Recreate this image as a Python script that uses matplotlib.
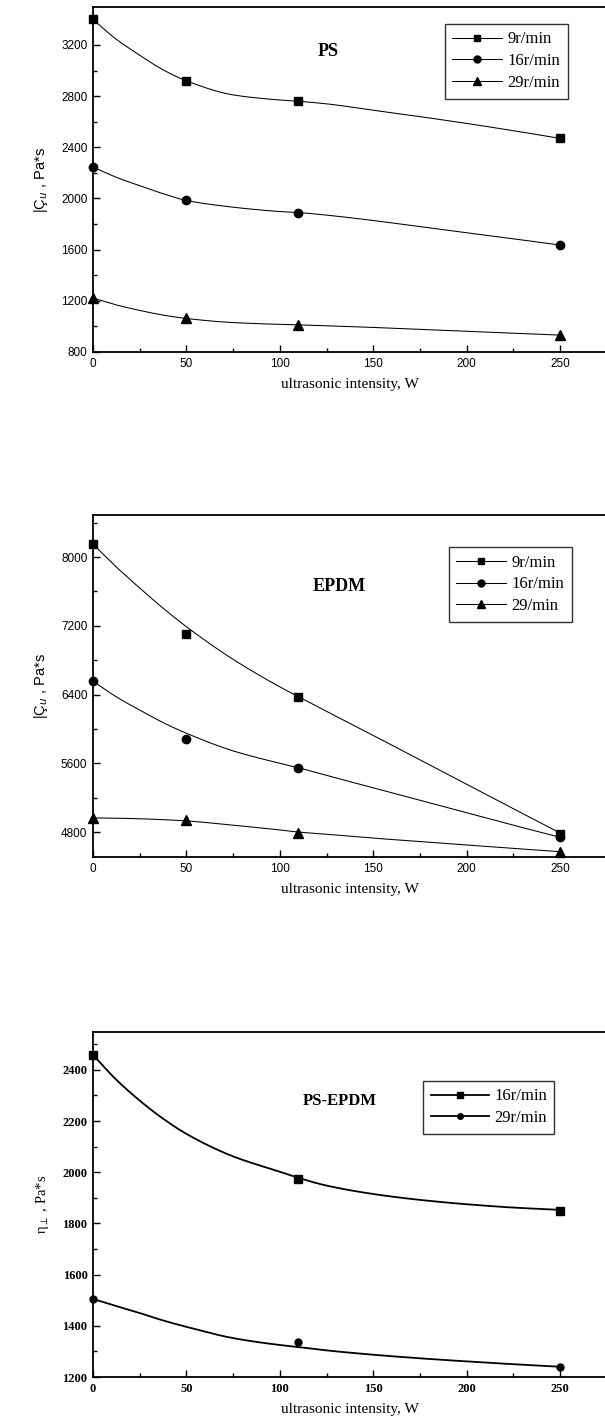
import numpy as np
import matplotlib
matplotlib.use("Agg")
import matplotlib.pyplot as plt
from matplotlib.ticker import MultipleLocator
from matplotlib.lines import Line2D

# --- data ---
# PS panel
PS_X = [0, 50, 110, 250]
PS_9 = [3400, 2920, 2760, 2470]
PS_16 = [2245, 1985, 1890, 1636]
PS_29 = [1222, 1062, 1012, 932]
# the drawn lines
CURVE_X = [0, 12, 25, 37, 50, 75, 100, 110, 125, 150, 175, 200, 225, 250]
PS_9_LINE = [3400, 3250, 3120, 3010, 2920, 2810, 2770, 2760, 2740, 2690, 2640, 2587, 2530, 2470]
PS_16_LINE = [2245, 2168, 2100, 2040, 1985, 1932, 1898, 1890, 1870, 1828, 1780, 1732, 1685, 1636]
PS_29_LINE = [1222, 1170, 1125, 1090, 1062, 1030, 1016, 1012, 1005, 992, 977, 962, 947, 932]

# EPDM panel
EPDM_X = [0, 50, 110, 250]
EPDM_9 = [8150, 7110, 6370, 4780]
EPDM_16 = [6557, 5880, 5548, 4740]
EPDM_29 = [4960, 4935, 4795, 4572]
EPDM_9_LINE = [8150, 7895, 7640, 7415, 7190, 6810, 6490, 6375, 6205, 5925, 5640, 5355, 5072, 4790]
EPDM_16_LINE = [6557, 6380, 6220, 6080, 5950, 5745, 5600, 5548, 5460, 5315, 5170, 5025, 4880, 4740]
EPDM_29_LINE = [4965, 4962, 4955, 4945, 4930, 4880, 4825, 4800, 4775, 4730, 4690, 4650, 4610, 4572]

# PS-EPDM panel
BL_X = [0, 110, 250]
BL_16 = [2459, 1974, 1850]
BL_29 = [1505, 1336, 1240]
BL_16_LINE = [2459, 2365, 2280, 2212, 2150, 2062, 2002, 1978, 1948, 1915, 1892, 1875, 1862, 1853]
BL_29_LINE = [1505, 1478, 1450, 1422, 1396, 1352, 1325, 1317, 1304, 1287, 1273, 1261, 1250, 1240]

W, H = 605, 1427
fig = plt.figure(figsize=(W / 100, H / 100), dpi=100)

SANS = "Liberation Sans"
SERIF = "Liberation Serif"


def smooth(x, y, n=300):
    """monotone cubic through the read points, only to draw a smooth line"""
    x = np.asarray(x, float)
    y = np.asarray(y, float)
    h = np.diff(x)
    d = np.diff(y) / h
    m = np.zeros_like(y)
    m[0], m[-1] = d[0], d[-1]
    for i in range(1, len(x) - 1):
        if d[i - 1] * d[i] > 0:
            w1 = 2 * h[i] + h[i - 1]
            w2 = h[i] + 2 * h[i - 1]
            m[i] = (w1 + w2) / (w1 / d[i - 1] + w2 / d[i])
    xs = np.linspace(x[0], x[-1], n)
    k = np.clip(np.searchsorted(x, xs) - 1, 0, len(x) - 2)
    t = (xs - x[k]) / h[k]
    h00 = 2 * t**3 - 3 * t**2 + 1
    h10 = t**3 - 2 * t**2 + t
    h01 = -2 * t**3 + 3 * t**2
    h11 = t**3 - t**2
    ys = h00 * y[k] + h10 * h[k] * m[k] + h01 * y[k + 1] + h11 * h[k] * m[k + 1]
    return xs, ys


def make_axes(top_px, bottom_px):
    left = 93 / W
    right = (93 + 275 * 1.868) / W
    ax = fig.add_axes([left, 1 - bottom_px / H, right - left, (bottom_px - top_px) / H])
    ax.set_xlim(0, 275)
    ax.xaxis.set_major_locator(MultipleLocator(50))
    ax.xaxis.set_minor_locator(MultipleLocator(25))
    ax.tick_params(which="both", direction="in", top=False, right=False, width=1.0)
    ax.tick_params(which="major", length=5, labelsize=8.5, pad=4)
    ax.tick_params(which="minor", length=3)
    for s in ax.spines.values():
        s.set_linewidth(1.3)
    ax.set_xlabel("ultrasonic intensity, W", fontfamily=SERIF, fontsize=11, labelpad=6)
    return ax


def style_labels(ax, fam, weight="normal"):
    for lab in ax.get_xticklabels() + ax.get_yticklabels():
        lab.set_fontfamily(fam)
        lab.set_fontweight(weight)


def legend(ax, handles, labels, anchor, hl=3.0):
    ax.legend(handles, labels, loc="upper left", bbox_to_anchor=anchor,
              prop={"family": SERIF, "size": 12}, frameon=True, fancybox=False,
              edgecolor="black", handlelength=hl, borderpad=0.45,
              labelspacing=0.35, handletextpad=0.3, borderaxespad=0)


# ---------- PS ----------
ax1 = make_axes(7, 352)
ax1.set_ylim(800, 3497)
ax1.yaxis.set_major_locator(MultipleLocator(400))
ax1.yaxis.set_minor_locator(MultipleLocator(200))
for line in [PS_9_LINE, PS_16_LINE, PS_29_LINE]:
    ax1.plot(*smooth(CURVE_X, line), color="black", lw=0.75)
ax1.plot(PS_X, PS_9, "s", color="black", ms=6, clip_on=False)
ax1.plot(PS_X, PS_16, "o", color="black", ms=6, clip_on=False)
ax1.plot(PS_X, PS_29, "^", color="black", ms=7, clip_on=False)
ax1.text(0.457, 0.87, "PS", transform=ax1.transAxes, fontfamily=SERIF,
         fontweight="bold", fontsize=13, ha="center", va="center")
ax1.set_ylabel("|Ç$_u$ , Pa*s", fontfamily=SANS, fontsize=10.5, labelpad=8)
h1 = [Line2D([], [], color="black", lw=0.75, marker=m, ms=s)
      for m, s in [("s", 5), ("o", 5), ("^", 6)]]
legend(ax1, h1, ["9r/min", "16r/min", "29r/min"], (0.685, 0.951))
style_labels(ax1, SANS)

# ---------- EPDM ----------
ax2 = make_axes(515, 857)
ax2.set_ylim(4510, 8490)
ax2.yaxis.set_major_locator(MultipleLocator(800))
ax2.yaxis.set_minor_locator(MultipleLocator(400))
for line in [EPDM_9_LINE, EPDM_16_LINE, EPDM_29_LINE]:
    ax2.plot(*smooth(CURVE_X, line), color="black", lw=0.75)
ax2.plot(EPDM_X, EPDM_9, "s", color="black", ms=6, clip_on=False)
ax2.plot(EPDM_X, EPDM_16, "o", color="black", ms=6, clip_on=False)
ax2.plot(EPDM_X, EPDM_29, "^", color="black", ms=7, clip_on=False)
ax2.text(0.48, 0.79, "EPDM", transform=ax2.transAxes, fontfamily=SERIF,
         fontweight="bold", fontsize=13, ha="center", va="center")
ax2.set_ylabel("|Ç$_u$ , Pa*s", fontfamily=SANS, fontsize=10.5, labelpad=8)
h2 = [Line2D([], [], color="black", lw=0.75, marker=m, ms=s)
      for m, s in [("s", 5), ("o", 5), ("^", 6)]]
legend(ax2, h2, ["9r/min", "16r/min", "29/min"], (0.693, 0.906))
style_labels(ax2, SANS)

# ---------- PS-EPDM ----------
ax3 = make_axes(1032, 1377)
ax3.set_ylim(1200, 2548)
ax3.yaxis.set_major_locator(MultipleLocator(200))
ax3.yaxis.set_minor_locator(MultipleLocator(100))
for line in [BL_16_LINE, BL_29_LINE]:
    ax3.plot(*smooth(CURVE_X, line), color="black", lw=1.3)
ax3.plot(BL_X, BL_16, "s", color="black", ms=6, clip_on=False)
ax3.plot(BL_X, BL_29, "o", color="black", ms=5, clip_on=False)
ax3.text(0.48, 0.80, "PS-EPDM", transform=ax3.transAxes, fontfamily=SERIF,
         fontweight="bold", fontsize=12, ha="center", va="center")
ax3.set_ylabel("η$_\\perp$ , Pa*s", fontfamily=SERIF, fontsize=10.5, labelpad=8)
h3 = [Line2D([], [], color="black", lw=1.3, marker=m, ms=s)
      for m, s in [("s", 4), ("o", 4)]]
legend(ax3, h3, ["16r/min", "29r/min"], (0.643, 0.858), hl=3.5)
ax3.tick_params(labelsize=9)
style_labels(ax3, SERIF, "bold")

fig.savefig("out.png", dpi=100)
